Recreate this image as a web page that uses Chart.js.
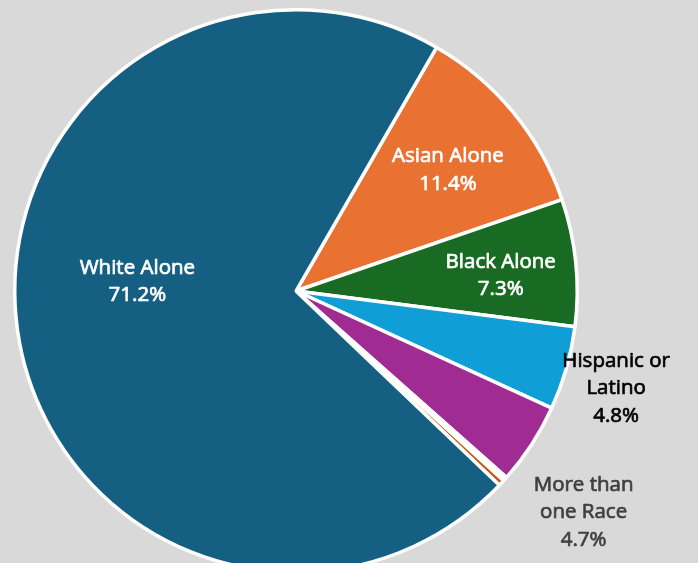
<!DOCTYPE html>
<html>
<head>
<meta charset="utf-8">
<script src="https://cdn.jsdelivr.net/npm/chart.js@4"></script>
<style>
  html, body { margin: 0; padding: 0; background: #d9d9d9; overflow: hidden; }
  #wrap { width: 698px; height: 563px; overflow: hidden; position: relative; }
  #wrap canvas { position: absolute; left: 0; top: 0; }
</style>
</head>
<body>
<div id="wrap"><canvas id="pie" width="698" height="600"></canvas></div>
<script>
const categories = [
  "Asian Alone",
  "Black Alone",
  "Hispanic or Latino",
  "More than one Race",
  "Some Other Race",
  "American Indian Alone",
  "White Alone",
];
const shares = [11.4, 7.3, 4.8, 4.7, 0.25, 0.35, 71.2];
const colors = ["#e97132", "#196b24", "#0f9ed5", "#a02b93", "#ffffff", "#c55a11", "#156082"];

// label text, one entry per slice (null = no label)
const labelLines = [
  ["Asian Alone", "11.4%"],
  ["Black Alone", "7.3%"],
  ["Hispanic or", "Latino", "4.8%"],
  ["More than", "one Race", "4.7%"],
  null,
  null,
  ["White Alone", "71.2%"],
];
// placement: fraction of radius, extra angle (deg) from slice middle, text colour
const labelStyle = [
  { r: 0.69, da: 1, color: "#ffffff" },
  { r: 0.73, da: 1.5, color: "#ffffff" },
  { r: 1.19, da: 1, color: "#000000" },
  { r: 1.29, da: 4.5, color: "#404040" },
  null,
  null,
  { r: 0.565, da: 11.5, color: "#ffffff" },
];

const pieLabels = {
  id: "pieLabels",
  afterDatasetsDraw(chart) {
    const ctx = chart.ctx;
    const arcs = chart.getDatasetMeta(0).data;
    ctx.save();
    ctx.font = '20.5px "Open Sans", sans-serif';
    ctx.textAlign = "center";
    ctx.textBaseline = "middle";
    ctx.lineWidth = 0.7;
    ctx.lineJoin = "round";
    arcs.forEach((arc, i) => {
      const lines = labelLines[i];
      const st = labelStyle[i];
      if (!lines) return;
      const p = arc.getProps(["x", "y", "startAngle", "endAngle", "outerRadius"], true);
      const a = (p.startAngle + p.endAngle) / 2 + st.da * Math.PI / 180;
      const cx = p.x + Math.cos(a) * p.outerRadius * st.r;
      const cy = p.y + Math.sin(a) * p.outerRadius * st.r;
      const lh = 27.5;
      ctx.fillStyle = st.color;
      ctx.strokeStyle = st.color;
      lines.forEach((t, j) => {
        const y = cy + (j - (lines.length - 1) / 2) * lh;
        ctx.fillText(t, cx, y);
        ctx.strokeText(t, cx, y);
      });
    });
    ctx.restore();
  }
};

new Chart(document.getElementById("pie"), {
  type: "pie",
  data: {
    labels: categories,
    datasets: [{
      data: shares,
      backgroundColor: colors,
      borderColor: "#ffffff",
      borderWidth: 3.5,
      hoverOffset: 0,
    }],
  },
  options: {
    responsive: false,
    animation: false,
    rotation: 30,
    layout: { padding: { left: 13, top: 8, right: 119, bottom: 26 } },
    plugins: { legend: { display: false }, tooltip: { enabled: false } },
  },
  plugins: [pieLabels],
});
</script>
</body>
</html>
